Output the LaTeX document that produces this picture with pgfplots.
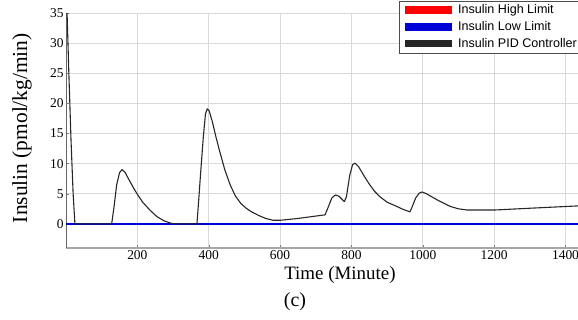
\documentclass[border=0pt]{standalone}
\usepackage{fontspec}
\setmainfont{Liberation Serif}
\newfontfamily\legfont{Liberation Sans}
\usepackage{pgfplots}
\pgfplotsset{compat=1.18}
\begin{document}
\begin{tikzpicture}
\begin{axis}[
  at={(0,0)}, anchor=south west,
  scale only axis, width=512bp, height=235bp,
  xmin=0, xmax=1435, ymin=-4, ymax=35,
  xtick={200,400,...,1400}, ytick={0,5,...,35},
  /pgf/number format/assume math mode=true,
  /pgf/number format/1000 sep={},
  ticklabel style={font=\fontsize{13.5}{14}\selectfont},
  axis x line*=bottom, axis y line*=left,
  x axis line style={-, draw=gray!70, line width=1.6pt},
  y axis line style={-, draw=gray!80!black, line width=0.6pt},
  major tick length=2.5bp, tick style={gray, line width=0.4pt},
  grid=major, grid style={gray!30, line width=0.6pt},
  xlabel={Time (Minute)}, ylabel={Insulin (pmol/kg/min)},
  xlabel style={font=\fontsize{19}{20}\selectfont, at={(axis description cs:0.535,-0.077)}, anchor=north, inner sep=0pt},
  ylabel style={font=\fontsize{21.5}{22}\selectfont, at={(axis description cs:-0.086,0.51)}, anchor=center, inner sep=0pt},
  xticklabel style={yshift=1bp},
  yticklabel style={xshift=1bp},
  legend style={at={(1.006,1.053)}, anchor=north east, draw=black!70, line width=0.6pt,
    font=\legfont\fontsize{12.6}{14}\selectfont, row sep=2.2pt, inner xsep=2pt, inner ysep=2pt, cells={anchor=west}},
  legend image code/.code={\draw[line width=7.5pt] (0bp,0bp) -- (47bp,0bp);},
  clip=true,
]
\addplot[red, line width=2pt] coordinates {(0,40) (1435,40)};
\addlegendentry{Insulin High Limit}
\addplot[blue!85!black, line width=2.2pt] coordinates {(0,0) (1435,0)};
\addlegendentry{Insulin Low Limit}
\addplot[black!85, line width=1.1pt, line join=round] coordinates {
(1,35) (3,35) (8,25) (14,14) (20,5) (25,0) (60,0) (100,0) (128,0) (135,3) (142,6.5) (150,8.5) (157,9) (165,8.6) (175,7.5) (188,6.1) (200,4.9) (215,3.6) (235,2.3) (255,1.2) (275,0.5) (295,0.1) (310,0)
(367,0) (372,4) (378,9) (385,14.5) (391,18.3) (396,19.1) (401,18.8) (410,17) (420,14.5) (430,12.2) (445,9) (460,6.5) (475,4.6) (490,3.4) (505,2.6) (520,2.0) (540,1.4) (560,0.9) (580,0.6) (600,0.6) (650,0.9) (700,1.3) (726,1.5) (735,2.8) (745,4.3) (755,4.8) (765,4.6) (780,3.7) (786,4.5) (795,8) (803,9.8) (810,10.1) (820,9.5) (835,8.0) (850,6.6) (865,5.4) (880,4.5) (900,3.6) (927,2.9) (945,2.4) (964,2.0) (970,2.8) (980,4.3) (990,5.1) (998,5.3) (1010,5.0) (1025,4.5) (1040,4.0) (1060,3.4) (1077,2.9) (1100,2.5) (1124,2.3) (1200,2.3) (1300,2.6) (1440,3.0)
};
\addlegendentry{Insulin PID Controller}
\end{axis}
\node[font=\fontsize{20}{22}\selectfont] at (229bp,-54bp) {(c)};
\pgfresetboundingbox
\path (-66bp,-72bp) rectangle (512bp,248bp);
\end{tikzpicture}
\end{document}
